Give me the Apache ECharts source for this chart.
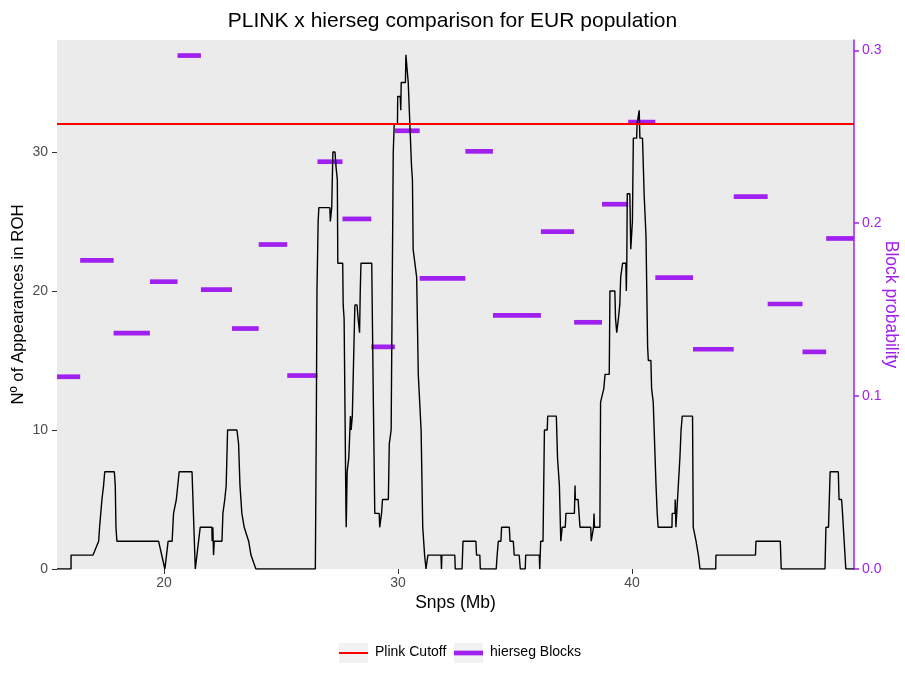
<!DOCTYPE html>
<html>
<head>
<meta charset="utf-8">
<title>PLINK x hierseg comparison for EUR population</title>
<script src="https://cdn.jsdelivr.net/npm/echarts@6/dist/echarts.min.js"></script>
<style>
  html, body { margin: 0; padding: 0; background: #ffffff; }
  #chart { width: 905px; height: 675px; }
</style>
</head>
<body>
<div id="chart"></div>
<script>
// ROH count along the chromosome (position in Mb, number of individuals in ROH)
const snpMb = [
  15.43, 16.03, 16.03, 16.97, 17.21, 17.25, 17.30, 17.35, 17.42, 17.47, 17.88, 17.92, 17.95, 17.99,
  19.77, 20.04, 20.18, 20.35, 20.41, 20.53, 20.65, 21.20, 21.34, 21.55, 22.05, 22.06, 22.09, 22.12,
  22.15, 22.48, 22.52, 22.60, 22.66, 22.72, 23.12, 23.19, 23.25, 23.33, 23.43, 23.62, 23.72, 23.93,
  26.47, 26.51, 26.54, 26.59, 26.62, 27.09, 27.11, 27.15, 27.17, 27.22, 27.31, 27.35, 27.41, 27.43,
  27.64, 27.66, 27.70, 27.72, 27.78, 27.79, 27.83, 27.90, 27.97, 28.00, 28.05, 28.16, 28.25, 28.30,
  28.36, 28.39, 28.42, 28.88, 28.95, 29.01, 29.20, 29.22, 29.27, 29.30, 29.34, 29.59, 29.63, 29.71,
  29.80, 29.84, 29.98, 29.99, 30.10, 30.12, 30.14, 30.32, 30.34, 30.41, 30.44, 30.48, 30.51, 30.58,
  30.62, 30.65, 30.70, 30.80, 30.87, 30.99, 31.06, 31.14, 31.20, 31.28, 31.84, 31.86, 31.88, 32.43,
  32.45, 32.74, 32.78, 33.33, 33.36, 33.50, 33.52, 34.20, 34.24, 34.29, 34.40, 34.43, 34.76, 34.79,
  34.93, 34.97, 35.18, 35.23, 35.44, 35.46, 36.04, 36.06, 36.10, 36.20, 36.26, 36.38, 36.40, 36.77,
  36.82, 36.90, 36.96, 37.00, 37.02, 37.15, 37.18, 37.54, 37.57, 37.58, 37.70, 37.74, 37.78, 38.24,
  38.26, 38.34, 38.36, 38.38, 38.40, 38.63, 38.66, 38.80, 38.85, 39.03, 39.06, 39.27, 39.30, 39.35,
  39.42, 39.48, 39.52, 39.60, 39.74, 39.76, 39.78, 39.80, 39.91, 39.95, 39.98, 40.02, 40.06, 40.20,
  40.22, 40.29, 40.31, 40.34, 40.45, 40.47, 40.52, 40.60, 40.67, 40.70, 40.81, 40.84, 40.91, 40.98,
  41.03, 41.08, 41.12, 41.71, 41.72, 41.84, 41.85, 41.88, 41.94, 42.05, 42.10, 42.15, 42.59, 42.62,
  42.74, 42.84, 42.91, 43.58, 43.59, 45.28, 45.30, 46.34, 46.38, 48.25, 48.29, 48.40, 48.47, 48.82,
  48.85, 48.96, 49.00, 49.14, 49.49
];
const rohCount = [
  0, 0, 1, 1, 2, 3, 4, 5, 6, 7, 7, 6, 3, 2,
  2, 0, 2, 2, 4, 5, 7, 7, 0, 3, 3, 2, 3, 1,
  2, 2, 4, 5, 6, 10, 10, 9, 6, 4, 3, 2, 1, 0,
  0, 10, 20, 25, 26, 26, 25, 25, 26, 30, 30, 29, 28, 22,
  22, 19, 18, 18, 4, 3, 7, 8, 11, 10, 11, 19, 19, 18,
  17, 20, 22, 22, 12, 4, 4, 3, 3, 4, 5, 5, 9, 10,
  30, 32, 32, 34, 34, 33, 35, 35, 37, 37, 35, 35, 32, 29,
  28, 23, 23, 21, 14, 10, 3, 1, 0, 1, 1, 0, 1, 1,
  0, 0, 2, 2, 1, 1, 0, 0, 1, 2, 2, 3, 3, 2,
  2, 1, 1, 0, 0, 1, 1, 0, 2, 2, 10, 10, 11, 11,
  8, 6, 2, 2, 3, 3, 4, 4, 6, 5, 5, 4, 3, 3,
  2, 2, 3, 4, 3, 3, 12, 13, 14, 14, 20, 20, 18, 17,
  18, 19, 21, 22, 22, 20, 22, 27, 27, 23, 23, 25, 31, 31,
  32, 32, 33, 31, 31, 30, 27, 24, 16, 15, 15, 13, 12, 12,
  6, 4, 3, 3, 4, 4, 5, 3, 3, 8, 10, 11, 11, 3,
  2, 1, 0, 0, 1, 1, 2, 2, 0, 0, 3, 3, 7, 7,
  5, 5, 4, 0, 0
];

// hierseg blocks: consecutive boundaries (Mb) and the probability of each block
const blockBreaks = [
  15.43, 16.42, 17.85, 19.40, 20.58, 21.58, 22.91, 24.05, 25.27, 26.56, 27.63, 28.86, 29.87,
  30.93, 32.88, 34.06, 36.11, 37.53, 38.72, 39.84, 41.00, 42.61, 44.35, 45.80, 47.29, 48.30, 49.49
];
const blockProb = [
  0.1112, 0.1785, 0.1364, 0.1662, 0.2970, 0.1616, 0.1391, 0.1877, 0.1119, 0.2356, 0.2025, 0.1285,
  0.2535, 0.1681, 0.2416, 0.1467, 0.1952, 0.1427, 0.2110, 0.2585, 0.1685, 0.1271, 0.2154, 0.1533,
  0.1256, 0.1912
];

// PLINK threshold on the ROH count
const plinkCutoff = 32;

// axis ticks
const xTicks = [20, 30, 40];
const countTicks = [0, 10, 20, 30];
const probTicks = [0, 0.1, 0.2, 0.3];

const PURPLE = '#A020F0';
const FONT = '"Liberation Sans", Arial, Helvetica, sans-serif';

const rohData = snpMb.map((x, i) => [x, rohCount[i]]);
const blockData = blockProb.map((p, i) => [blockBreaks[i], blockBreaks[i + 1], p]);

const chart = echarts.init(document.getElementById('chart'), null, { renderer: 'canvas' });

chart.setOption({
  animation: false,
  backgroundColor: '#ffffff',
  textStyle: { fontFamily: FONT },
  title: {
    text: 'PLINK x hierseg comparison for EUR population',
    left: 'center',
    top: 6,
    textStyle: { fontFamily: FONT, fontSize: 21, fontWeight: 'normal', color: '#000000' }
  },
  grid: {
    left: 57, right: 51, top: 40, bottom: 106,
    containLabel: false,
    outerBoundsMode: 'none',
    show: true, backgroundColor: '#EBEBEB', borderWidth: 0
  },
  xAxis: {
    type: 'value',
    min: 15.43, max: 49.49,
    name: 'Snps (Mb)',
    nameLocation: 'middle',
    nameGap: 25,
    nameMoveOverlap: false,
    nameTextStyle: { fontFamily: FONT, fontSize: 17.5, color: '#000000' },
    axisLine: { show: false },
    axisTick: { show: true, length: 5, lineStyle: { color: '#333333', width: 1 }, customValues: xTicks },
    axisLabel: { fontFamily: FONT, fontSize: 14, color: '#4D4D4D', margin: 7, customValues: xTicks },
    splitLine: { show: false }
  },
  yAxis: [
    {
      type: 'value',
      min: 0, max: 38.06,
      position: 'left',
      name: 'Nº of Appearances in ROH',
      nameLocation: 'middle',
      nameGap: 30,
      nameMoveOverlap: false,
      nameTextStyle: { fontFamily: FONT, fontSize: 16.8, color: '#000000' },
      axisLine: { show: false },
      axisTick: { show: true, length: 5, lineStyle: { color: '#333333', width: 1 }, customValues: countTicks },
      axisLabel: { fontFamily: FONT, fontSize: 14, color: '#4D4D4D', margin: 9, customValues: countTicks },
      splitLine: { show: false }
    },
    {
      type: 'value',
      min: 0, max: 0.306,
      position: 'right',
      name: 'Block probability',
      nameLocation: 'middle',
      nameGap: 28,
      nameRotate: -90,
      nameMoveOverlap: false,
      nameTextStyle: { fontFamily: FONT, fontSize: 17.5, color: PURPLE },
      axisLine: { show: true, lineStyle: { color: PURPLE, width: 1.5 } },
      axisTick: { show: true, length: 5, lineStyle: { color: PURPLE, width: 1.5 }, customValues: probTicks },
      axisLabel: {
        fontFamily: FONT, fontSize: 14, color: PURPLE, margin: 8, customValues: probTicks,
        formatter: v => v.toFixed(1)
      },
      splitLine: { show: false }
    }
  ],
  series: [
    {
      name: 'hierseg Blocks',
      type: 'custom',
      xAxisIndex: 0,
      yAxisIndex: 1,
      clip: true,
      z: 2,
      data: blockData,
      renderItem: function (params, api) {
        const a = api.coord([api.value(0), api.value(2)]);
        const b = api.coord([api.value(1), api.value(2)]);
        return {
          type: 'line',
          shape: { x1: a[0], y1: a[1], x2: b[0], y2: b[1] },
          style: { stroke: PURPLE, lineWidth: 4.7 }
        };
      }
    },
    {
      name: 'ROH count',
      type: 'line',
      xAxisIndex: 0,
      yAxisIndex: 0,
      data: rohData,
      showSymbol: false,
      symbol: 'none',
      clip: true,
      z: 3,
      lineStyle: { color: '#000000', width: 1.4 },
      markLine: {
        silent: true,
        symbol: ['none', 'none'],
        label: { show: false },
        lineStyle: { color: '#FF0000', width: 2, type: 'solid' },
        data: [{ yAxis: plinkCutoff, name: 'Plink Cutoff' }]
      }
    }
  ],
  graphic: [
    { type: 'rect', left: 339, top: 643, shape: { width: 29, height: 20 }, style: { fill: '#F2F2F2' } },
    { type: 'line', shape: { x1: 339, y1: 653, x2: 368, y2: 653 }, style: { stroke: '#FF0000', lineWidth: 2 } },
    { type: 'text', left: 375, top: 645, style: { text: 'Plink Cutoff', fontFamily: FONT, fontSize: 14, fill: '#000000' } },
    { type: 'rect', left: 454, top: 643, shape: { width: 29, height: 20 }, style: { fill: '#F2F2F2' } },
    { type: 'line', shape: { x1: 454, y1: 653, x2: 483, y2: 653 }, style: { stroke: PURPLE, lineWidth: 4.7 } },
    { type: 'text', left: 490, top: 645, style: { text: 'hierseg Blocks', fontFamily: FONT, fontSize: 14, fill: '#000000' } }
  ]
});
</script>
</body>
</html>
